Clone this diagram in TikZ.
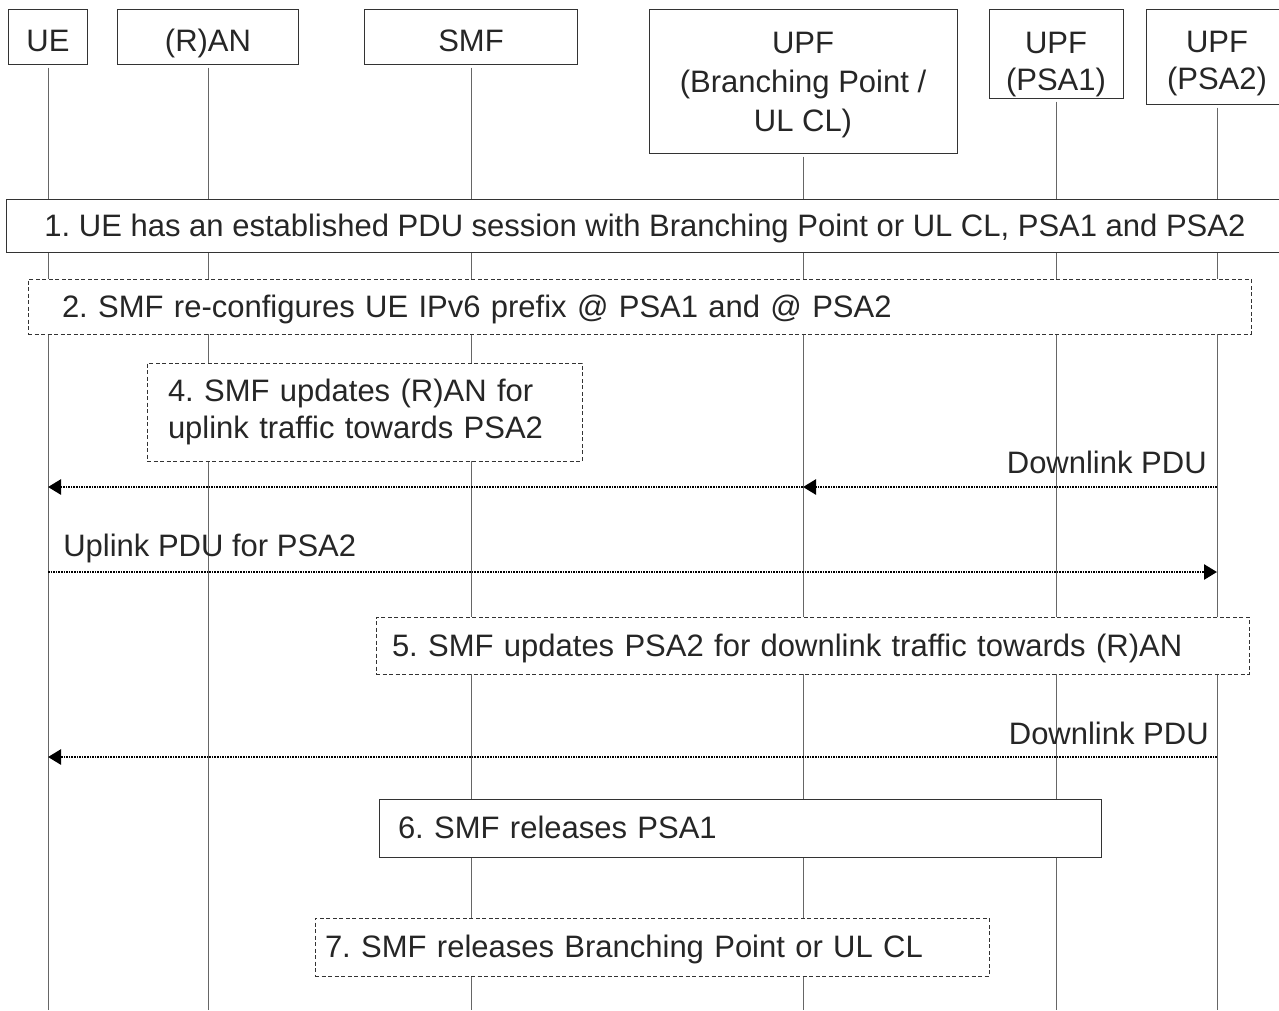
\documentclass[tikz,border=0pt]{standalone}
\usepackage{fontspec}
\setmainfont{Liberation Sans}
\usetikzlibrary{arrows.meta}
\frenchspacing

\tikzset{
  hdr/.style={draw=black!80, fill=white, line width=1pt, align=center, inner sep=0pt},
  life/.style={draw=black!60, line width=1pt},
  stepbox/.style={draw=black!80, fill=white, line width=1pt, inner ysep=0pt, align=left},
  optbox/.style={stepbox, dash pattern=on 4pt off 2.5pt},
  oneline/.style={text height=21.5pt, text depth=0pt},
  msg/.style={line width=2.6pt, dash pattern=on 1.6pt off 1pt, -{Triangle[length=13pt,width=15pt]}},
  msglbl/.style={anchor=base east, inner sep=0pt}
}

\begin{document}
\begin{tikzpicture}[x=1pt, y=-1pt, font=\fontsize{31}{37}\selectfont, text=black!85]
  \useasboundingbox (0,0) rectangle (1279,1010);

  % network functions
  \node[hdr, minimum width=79pt, minimum height=55pt, text height=30pt, text depth=0pt] (ue) at (48,36.5) {UE};
  \node[hdr, minimum width=181pt, minimum height=55pt, text height=30pt, text depth=0pt] (ran) at (208,36.5) {(R)AN};
  \node[hdr, minimum width=213pt, minimum height=55pt, text height=30pt, text depth=0pt] (smf) at (471,36.5) {SMF};
  \node[hdr, minimum width=308pt, minimum height=144pt, font=\fontsize{31}{39}\selectfont] (bp) at (803,81) {\rule{0pt}{30pt}UPF\\(Branching Point /\\UL CL)};
  \node[hdr, minimum width=134pt, minimum height=89pt] (psa1) at (1056,53.5) {\rule{0pt}{43pt}UPF\\(PSA1)};
  \node[hdr, minimum width=142pt, minimum height=95pt] (psa2) at (1217,56.5) {\rule{0pt}{36pt}UPF\\(PSA2)};

  \coordinate (bot) at (0,1010);
  \foreach \n in {ue,ran,smf,bp,psa1,psa2}
    \draw[life] ([yshift=-3pt]\n.south) -- (\n |- bot);

  % procedure steps
  \node[stepbox, oneline, minimum width=1278pt, minimum height=53pt, align=center] (s1) at (645,225.5)
    {1. UE has an established PDU session with Branching Point or UL CL, PSA1 and PSA2};
  \node[optbox, oneline, text width=1155pt, inner xsep=34pt, minimum height=55pt] (s2) at (639.5,306.5)
    {2. SMF re-configures UE IPv6 prefix @ PSA1 and @ PSA2};
  \node[optbox, text width=393pt, inner xsep=21pt, minimum height=98pt] (s4) at (364.5,412)
    {4. SMF updates (R)AN for\\uplink traffic towards PSA2};
  \node[optbox, oneline, text width=841pt, inner xsep=16pt, minimum height=57pt] (s5) at (812.5,645.5)
    {5. SMF updates PSA2 for downlink traffic towards (R)AN};
  \node[stepbox, oneline, text width=684pt, inner xsep=19pt, minimum height=58pt] (s6) at (740,828)
    {6. SMF releases PSA1};
  \node[optbox, oneline, text width=654pt, inner xsep=10pt, minimum height=58pt] (s7) at (652,947)
    {7. SMF releases Branching Point or UL CL};

  % user plane traffic
  \coordinate (dl1) at (0,487);
  \coordinate (ul) at (0,572);
  \coordinate (dl2) at (0,757);

  \draw[msg] (psa2 |- dl1) -- (bp |- dl1) node[pos=0, msglbl, xshift=-9pt, yshift=14pt] {Downlink PDU};
  \draw[msg] (bp |- dl1) -- (ue |- dl1);
  \draw[msg] (ue |- ul) -- (psa2 |- ul) node[pos=0, anchor=base west, inner sep=0pt, xshift=14pt, yshift=16pt] {Uplink PDU for PSA2};
  \draw[msg] (psa2 |- dl2) -- (ue |- dl2) node[pos=0, msglbl, xshift=-7pt, yshift=13pt] {Downlink PDU};
\end{tikzpicture}
\end{document}
